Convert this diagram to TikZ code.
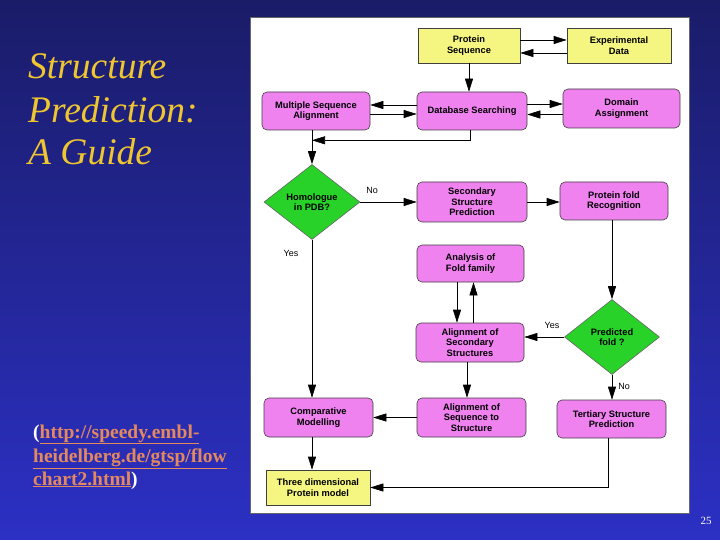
\documentclass[tikz,border=0pt]{standalone}
\usepackage{fontspec}
\setmainfont{Liberation Serif}
\newfontfamily\chartfont{Liberation Sans}
\usetikzlibrary{shapes.geometric,arrows.meta,calc}
\definecolor{bgtop}{RGB}{26,28,104}
\definecolor{bgbot}{RGB}{44,48,196}
\definecolor{gold}{RGB}{240,198,48}
\definecolor{salmon}{RGB}{228,136,96}
\definecolor{boxmag}{RGB}{240,130,240}
\definecolor{boxyel}{RGB}{245,245,130}
\definecolor{dgreen}{RGB}{40,210,40}
\begin{document}
\begin{tikzpicture}[x=1pt,y=-1pt,
  every node/.style={inner sep=0pt},
  sz/.style 2 args={minimum width=#1pt, minimum height=#2pt},
  cf/.style={font=\chartfont\bfseries\fontsize{9.3}{10.5}\selectfont},
  box/.style={cf, rounded corners=5pt, draw=black!75, line width=0.6pt, fill=boxmag,
    align=center, text=black},
  ybox/.style={box, rounded corners=0pt, fill=boxyel},
  dia/.style={cf, diamond, draw=black!60, line width=0.6pt, fill=dgreen, aspect=1.27,
    align=center},
  arr/.style={-{Triangle[length=13pt,width=8pt]}, line width=0.6pt},
  lab/.style={font=\chartfont\fontsize{9}{10}\selectfont},
  ttl/.style={font=\fontsize{37.5}{44}\itshape, anchor=base west, text=gold},
  url/.style={font=\fontsize{19.5}{23}\bfseries, anchor=base west, text=salmon}
]
% background
\shade[top color=bgtop, bottom color=bgbot] (0,0) rectangle (720,540);
\useasboundingbox (0,0) rectangle (720,540);
% title
\node[ttl] (t1l) at (28,79) {Structure};
\node[ttl] (t2l) at (28,123) {Prediction:};
\node[ttl] (t3l) at (28,165) {A Guide};
% url
\node[url] (u1) at (33,438) {\textcolor{white}{(}\underline{http://speedy.embl-}};
\node[url] (u2) at (33,462) {\underline{heidelberg.de/gtsp/flow}};
\node[url] (u3) at (33,485) {\underline{chart2.html}\textcolor{white}{)}};
% page number
\node[text=white, font=\fontsize{11}{13}\selectfont] (pn) at (706,521) {25};
% panel
\draw[fill=white, draw=black!60, line width=1pt] (250,18) rectangle (689,513);
% nodes
\node[ybox, sz={102}{35}] (ps) at (469,45.5) {Protein\\Sequence};
\node[ybox, sz={104}{35}] (ed) at (619,45.5) {Experimental\\Data};
\node[box, sz={108}{38}] (msa) at (316,111) {Multiple Sequence\\Alignment};
\node[box, sz={110}{38}] (dbs) at (472,111) {Database Searching};
\node[box, sz={117}{39}] (da) at (621.5,108.5) {Domain\\Assignment};
\node[dia, minimum width=96pt, minimum height=75pt] (hom) at (312,202) {Homologue\\in PDB?};
\node[box, sz={110}{40}] (ssp) at (472,202) {Secondary\\Structure\\Prediction};
\node[box, sz={108}{38}] (pfr) at (614,201) {Protein fold\\Recognition};
\node[box, sz={107}{37}] (afa) at (470.5,263.5) {Analysis of\\Fold family};
\node[box, sz={108}{39}] (ass) at (470,342.5) {Alignment of\\Secondary\\Structures};
\node[dia, minimum width=95pt, minimum height=75pt] (pf) at (612,337) {Predicted\\fold ?};
\node[box, sz={109}{39}] (cm) at (318.5,417.5) {Comparative\\Modelling};
\node[box, sz={109}{39}] (asq) at (471.5,417.5) {Alignment of\\Sequence to\\Structure};
\node[box, sz={109}{38}] (tsp) at (611.5,419) {Tertiary Structure\\Prediction};
\node[ybox, sz={104}{35}] (tdm) at (318,487.5) {Three dimensional\\Protein model};
% labels
\node[lab] (lno1) at (372,190) {No};
\node[lab] (lyes1) at (291,253) {Yes};
\node[lab] (lyes2) at (552,325) {Yes};
\node[lab] (lno2) at (624,386) {No};
% helper coordinates
\coordinate (a1) at ([yshift=5.5pt]ps.east);
\coordinate (a2) at ([yshift=-7.5pt]ed.west);
\coordinate (b1) at ([yshift=7pt]dbs.east);
\coordinate (b2) at ([yshift=-6pt]da.west);
\coordinate (c1) at ([yshift=6pt]dbs.west);
\coordinate (c2) at ([yshift=-3pt]msa.east);
\coordinate (j0) at (hom.north |- msa.south);
\coordinate (j1) at ($(j0)+(0,-10pt)$);
\coordinate (d1) at ([xshift=-13.5pt]afa.south);
\coordinate (d2) at ([xshift=3.5pt]ass.north);
\coordinate (t1) at ([xshift=-3.5pt]tsp.south);
% connectors
\draw[arr] (a1) -- (a1 -| ed.west);
\draw[arr] (a2) -- (a2 -| ps.east);
\draw[arr] (ps.south) -- (ps.south |- dbs.north);
\draw[arr] (b1) -- (b1 -| da.west);
\draw[arr] (b2) -- (b2 -| dbs.east);
\draw[arr] (c1) -- (c1 -| msa.east);
\draw[arr] (c2) -- (c2 -| dbs.west);
\draw[arr] ([xshift=-2pt]dbs.south) |- (j1);
\draw[arr] (j0) -- (hom.north);
\draw[arr] (hom.east) -- (hom.east -| ssp.west);
\draw[arr] (ssp.east) -- (ssp.east -| pfr.west);
\draw[arr] (hom.south) -- (hom.south |- cm.north);
\draw[arr] (d1) -- (d1 |- ass.north);
\draw[arr] (d2) -- (d2 |- afa.south);
\draw[arr] (pfr.south -| pf.north) -- (pf.north);
\draw[arr] (pf.west) -- (pf.west -| ass.east);
\draw[arr] (pf.south) -- (pf.south |- tsp.north);
\draw[arr] ([xshift=-3pt]ass.south) -- ([xshift=-3pt]ass.south |- asq.north);
\draw[arr] (asq.west) -- (asq.west -| cm.east);
\draw[arr] (hom.south |- cm.south) -- (hom.south |- tdm.north);
\draw[arr] (t1) |- (tdm.east);
\end{tikzpicture}
\end{document}
